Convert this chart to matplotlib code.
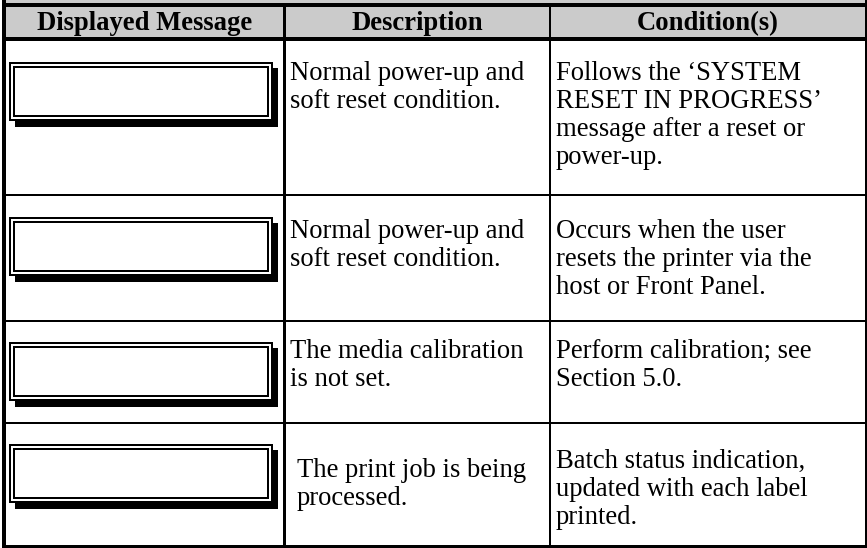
import matplotlib
matplotlib.use("Agg")
import matplotlib.pyplot as plt
from matplotlib.patches import Rectangle

# ---- table content ----
headers = ["Displayed Message", "Description", "Condition(s)"]
descriptions = [
    ["Normal power-up and", "soft reset condition."],
    ["Normal power-up and", "soft reset condition."],
    ["The media calibration", "is not set."],
    ["The print job is being", "processed."],
]
conditions = [
    ["Follows the \u2018SYSTEM", "RESET IN PROGRESS\u2019", "message after a reset or", "power-up."],
    ["Occurs when the user", "resets the printer via the", "host or Front Panel."],
    ["Perform calibration; see", "Section 5.0."],
    ["Batch status indication,", "updated with each label", "printed."],
]

# ---- layout (pixels) ----
W, H = 867, 548
row_y = [39, 195, 321, 423, 546]      # row boundaries (after header)
box_top = [62, 217, 342, 444]
desc_base = [[80, 108], [238, 266], [358, 386], [477, 505]]
cond_base = [[80, 108, 136, 164], [238, 266, 294], [358, 386], [468, 496, 523.5]]
desc_x = [290, 290, 290, 297]
cond_x = 556
FS = 19.2

fig = plt.figure(figsize=(W / 100, H / 100), dpi=100)
ax = fig.add_axes([0, 0, 1, 1])
ax.set_xlim(0, W)
ax.set_ylim(H, 0)
ax.axis("off")


def rect(x0, y0, x1, y1, color):
    ax.add_patch(Rectangle((x0, y0), x1 - x0, y1 - y0, facecolor=color,
                           edgecolor="none", linewidth=0))


# header band
rect(2, 0, W, 39, "#cbcbcb")
rect(2, 3, W, 7, "black")
rect(2, 37, W, 41, "black")

# borders
rect(2, 0, 6, 548, "black")
rect(865, 0, 867, 548, "black")
rect(2, 545, 867, 548, "black")
# column dividers
rect(283, 3, 285.5, 548, "black")
rect(548.5, 3, 551, 548, "black")
# row separators
for y in row_y[1:-1]:
    rect(2, y - 1.2, 867, y + 1.3, "black")

# header text
centers = [(6 + 283) / 2, (285.5 + 548.5) / 2, (551 + 865) / 2]
for cx, h in zip(centers, headers):
    ax.text(cx, 30.5, h, ha="center", va="baseline", fontsize=FS,
            fontweight="bold", family="Liberation Serif", color="black")

# display boxes
bw, bh = 264, 59
for top in box_top:
    x0 = 9
    rect(x0 + 6, top + 6, x0 + bw + 5, top + bh + 6, "black")   # shadow
    rect(x0, top, x0 + bw, top + bh, "black")
    rect(x0 + 2, top + 2, x0 + bw - 2, top + bh - 2, "white")
    rect(x0 + 4, top + 4, x0 + bw - 4, top + bh - 4, "black")
    rect(x0 + 6, top + 6, x0 + bw - 6, top + bh - 6, "white")

# body text
for i in range(len(descriptions)):
    for line, yb in zip(descriptions[i], desc_base[i]):
        ax.text(desc_x[i], yb, line, ha="left", va="baseline", fontsize=FS,
                family="Liberation Serif", color="black")
    for line, yb in zip(conditions[i], cond_base[i]):
        ax.text(cond_x, yb, line, ha="left", va="baseline", fontsize=FS,
                family="Liberation Serif", color="black")

fig.savefig("out.png", dpi=100, facecolor="white")
